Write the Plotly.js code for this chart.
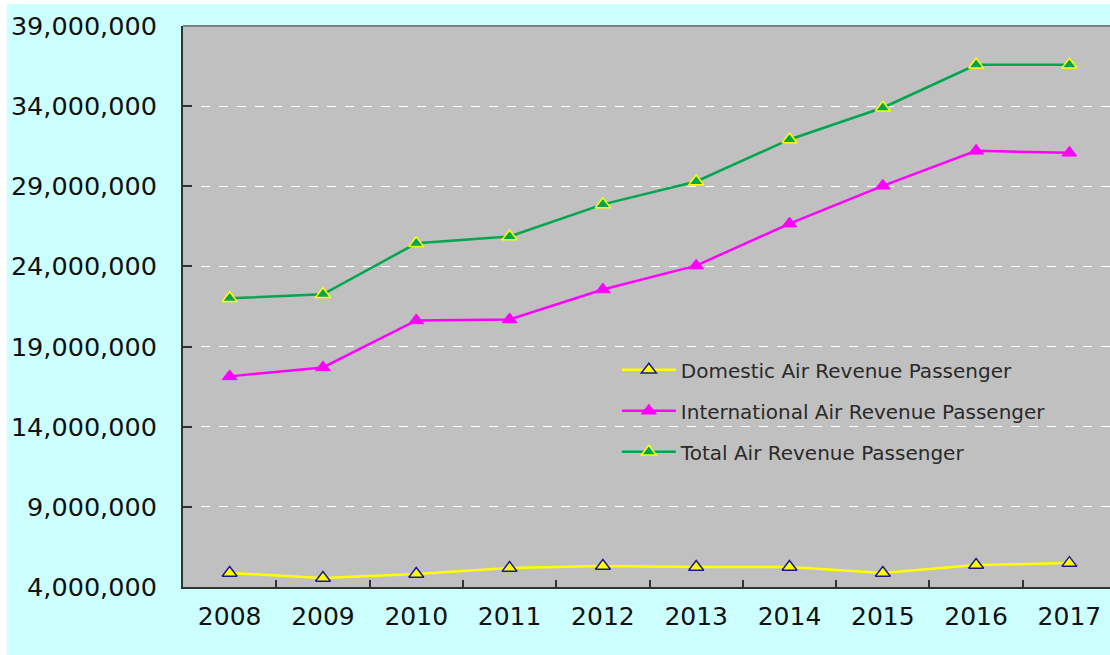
<!DOCTYPE html>
<html>
<head>
<meta charset="utf-8">
<script src="https://cdn.plot.ly/plotly-3.0.1.min.js"></script>
<style>
  html, body { margin: 0; padding: 0; background: #ffffff; width: 1110px; height: 655px; overflow: hidden; }
  #chart { position: absolute; left: 7px; top: 4px; width: 1103px; height: 651px; }
</style>
</head>
<body>
<div id="chart"></div>
<script>
const years = ["2008", "2009", "2010", "2011", "2012", "2013", "2014", "2015", "2016", "2017"];
const domestic = [4870000, 4560000, 4810000, 5180000, 5310000, 5250000, 5250000, 4870000, 5370000, 5490000];
const international = [17140000, 17700000, 20630000, 20690000, 22560000, 24050000, 26670000, 29030000, 31210000, 31090000];
const total = [22010000, 22260000, 25440000, 25870000, 27870000, 29300000, 31920000, 33900000, 36580000, 36580000];
const seriesNames = ["Domestic Air Revenue Passenger", "International Air Revenue Passenger", "Total Air Revenue Passenger"];
const yTickVals = [4000000, 9000000, 14000000, 19000000, 24000000, 29000000, 34000000, 39000000];

const traces = [
  {
    x: years, y: domestic, name: seriesNames[0], type: "scatter", mode: "lines+markers",
    legendgroup: "a",
    line: { color: "#FFFF00", width: 2.5 },
    marker: { symbol: "triangle-up", size: 13, color: "#FFFF00", line: { color: "#1A1A8C", width: 1.5 } }
  },
  {
    x: years, y: international, name: seriesNames[1], type: "scatter", mode: "lines+markers",
    legendgroup: "b",
    line: { color: "#FF00FF", width: 2.5 },
    marker: { symbol: "triangle-up", size: 13, color: "#FF00FF", line: { color: "#FF00FF", width: 1 } }
  },
  {
    x: years, y: total, name: seriesNames[2], type: "scatter", mode: "lines+markers",
    legendgroup: "c",
    line: { color: "#00A550", width: 2.5 },
    marker: { symbol: "triangle-up", size: 13, color: "#00A550", line: { color: "#FFFF00", width: 1.5 } }
  }
];

const layout = {
  width: 1103, height: 651,
  paper_bgcolor: "#CCFFFF",
  plot_bgcolor: "#C0C0C0",
  margin: { l: 176, r: 0, t: 22, b: 68, pad: 0 },
  showlegend: true,
  legend: {
    x: 0.468, y: 0.422, xanchor: "left", yanchor: "top",
    bgcolor: "rgba(0,0,0,0)", borderwidth: 0,
    traceorder: "grouped", tracegroupgap: 12,
    itemwidth: 54,
    font: { family: "DejaVu Sans, sans-serif", size: 20, color: "#2A2A2A" }
  },
  xaxis: {
    type: "category",
    range: [-0.5, 9.435],
    tickson: "boundaries",
    ticks: "inside", ticklen: 7, tickwidth: 2, tickcolor: "#333333",
    showline: true, linecolor: "#333333", linewidth: 2,
    showgrid: false, zeroline: false,
    ticklabelstandoff: 6,
    tickfont: { family: "DejaVu Sans, sans-serif", size: 25, color: "#111111" }
  },
  yaxis: {
    range: [4000000, 39000000],
    tickvals: yTickVals,
    tickformat: ",d",
    ticks: "inside", ticklen: 9, tickwidth: 2, tickcolor: "#333333",
    showline: true, linecolor: "#333333", linewidth: 2,
    showgrid: true, gridcolor: "#FFFFFF", gridwidth: 1, griddash: "dash",
    zeroline: false,
    ticklabelstandoff: 19,
    tickfont: { family: "DejaVu Sans, sans-serif", size: 25.5, color: "#111111" }
  },
  shapes: [
    { type: "line", xref: "paper", yref: "paper", x0: 0, x1: 1, y0: 1, y1: 1,
      line: { color: "#808080", width: 2 } }
  ]
};

Plotly.newPlot("chart", traces, layout, { displayModeBar: false, staticPlot: true });
</script>
</body>
</html>
